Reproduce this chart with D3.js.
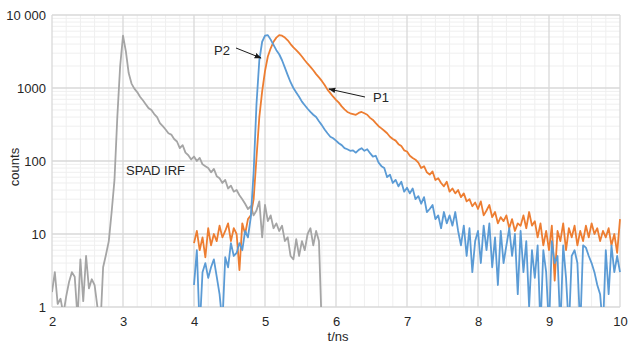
<!DOCTYPE html>
<html><head><meta charset="utf-8">
<script src="https://cdn.jsdelivr.net/npm/d3@7"></script>
<style>body{margin:0;background:#fff}svg{display:block}text{font-family:"Liberation Sans",Arial,sans-serif;fill:#262626}</style>
</head><body><svg id="c" width="629" height="345"></svg>
<script>
const xTicks = [2,3,4,5,6,7,8,9,10];
const yTicks = [1,10,100,1000,10000];
const yTickLabels = ["1","10","100","1000","10 000"];
const dt = 0.04;
const irfStart = 2.0;
const irfCounts = [
 1.6,3,1.1,1.3,0.8,1.4,2.2,3,2.6,0.7,
 4.5,1.2,5,1.8,2.4,2.0,1.0,0.5,3.5,5.2,
 8,20,55,400,2000,5200,3200,1600,1150,980,
 880,760,680,600,530,500,440,400,330,300,
 270,240,230,200,185,150,165,130,120,105,
 115,100,110,90,85,80,70,78,62,58,
 50,55,42,46,38,40,34,30,26,22,
 24,18,21,28,9,25,15,18,12,14,
 11,13,8,9,5,4.5,8.5,5,8,6,
 10,12,7,11,8,0.3];
const p2Start = 4.0;
const p2Counts = [
 2,6,0.5,3,4,2.5,3.5,4.5,2.6,1.5,
 0.6,4.8,3.5,7.5,5,5.5,7.5,6,11,9,
 17,70,600,2400,4300,5200,5300,4600,3900,3300,
 2900,2400,1900,1500,1200,1000,870,760,650,580,
 520,470,430,400,350,310,270,240,215,205,
 190,175,165,150,145,138,140,130,142,150,
 138,145,128,115,118,95,85,80,60,65,
 50,55,45,52,38,43,36,42,30,33,
 26,32,20,22,25,16,18,12,20,14,
 18,13,20,11,7,13,5,12,3,8,
 11,4,13,6,14,3.5,9,2,11,4,
 7,12,5,10,1.5,11,3,8,1,6,
 2.5,7,0.5,6,3,0.5,8,4,5,0.5,
 7,2.5,0.5,5,6,4,0.5,7,6.5,5,
 4,3,2,1.5,0.5,6,1.5,7,3,5,
 3];
const p1Start = 4.0;
const p1Counts = [
 7.5,11,6,9,4.8,12,7,10,8,13,
 9,11,14,8,12,10,3.2,14,10,16,
 18,30,110,400,900,1700,2700,3500,4300,4900,
 5300,5200,4900,4500,4000,3600,3300,3000,2700,2400,
 2150,1950,1750,1550,1400,1250,1100,950,850,760,
 690,630,560,510,470,450,440,430,455,470,
 450,430,390,365,330,300,280,260,240,215,
 200,190,170,160,140,135,118,110,104,95,
 80,85,70,65,72,55,58,50,45,52,
 38,42,36,40,32,36,28,30,24,27,
 22,28,18,21,25,17,20,14,17,15,
 18,12,16,11,14,13,18,12,20,13,
 15,9,14,7,11,6,13,2.3,11,8,
 14,6,12,9,13,7,11,8,13,9,
 14,10,12,8,11,9,12,7,10,5.5,
 16];

const svg = d3.select("#c");
const L=52, R=620, T=15, B=307;
const x = d3.scaleLinear().domain([2,10]).range([L,R]);
const y = d3.scaleLog().domain([1,10000]).range([B,T]);

const grid = svg.append("g");
const xMinor = d3.range(2,10.001,0.2).filter(v=>Math.abs(v-Math.round(v))>1e-6);
grid.selectAll(".xm").data(xMinor).enter().append("line")
  .attr("x1",d=>x(d)).attr("x2",d=>x(d)).attr("y1",T).attr("y2",B)
  .attr("stroke","#efefef").attr("stroke-width",1);
const yMinor = [];
for (let dec=1; dec<10000; dec*=10) for (let k=2;k<=9;k++) yMinor.push(dec*k);
grid.selectAll(".ym").data(yMinor).enter().append("line")
  .attr("x1",L).attr("x2",R).attr("y1",d=>y(d)).attr("y2",d=>y(d))
  .attr("stroke","#efefef").attr("stroke-width",1);
grid.selectAll(".xM").data(xTicks).enter().append("line")
  .attr("x1",d=>x(d)).attr("x2",d=>x(d)).attr("y1",T).attr("y2",B)
  .attr("stroke","#d9d9d9").attr("stroke-width",1.3);
grid.selectAll(".yM").data(yTicks).enter().append("line")
  .attr("x1",L).attr("x2",R).attr("y1",d=>y(d)).attr("y2",d=>y(d))
  .attr("stroke","#d9d9d9").attr("stroke-width",1.3);

const xAxis = d3.axisBottom(x).tickValues(xTicks).tickSize(0).tickPadding(10).tickFormat(d3.format("d"));
const gx = svg.append("g").attr("transform",`translate(0,${B})`).call(xAxis);
gx.select(".domain").remove();
gx.selectAll("text").style("font-size","13px").attr("fill","#262626").style("font-family","Liberation Sans, Arial, sans-serif");
const yAxis = d3.axisLeft(y).tickValues(yTicks).tickSize(0).tickPadding(6).tickFormat((d,i)=>yTickLabels[i]);
const gy = svg.append("g").attr("transform",`translate(${L},0)`).call(yAxis);
gy.select(".domain").remove();
gy.selectAll("text").style("font-size","13px").attr("fill","#262626").style("font-family","Liberation Sans, Arial, sans-serif");

svg.append("text").attr("x",338).attr("y",341).attr("text-anchor","middle").style("font-size","13px").text("t/ns");
svg.append("text").attr("transform","translate(19,167) rotate(-90)").attr("text-anchor","middle").style("font-size","13px").text("counts");

svg.append("clipPath").attr("id","clip").append("rect").attr("x",L).attr("y",T-2).attr("width",R-L+1).attr("height",B-T+2);
const plot = svg.append("g").attr("clip-path","url(#clip)");
const line = d3.line().x(d=>x(d[0])).y(d=>y(Math.max(d[1],0.5)));
function pts(start, arr){ return arr.map((v,i)=>[start+i*dt, v]); }
plot.append("path").datum(pts(irfStart,irfCounts)).attr("d",line).attr("fill","none").attr("stroke","#a5a5a5").attr("stroke-width",1.8).attr("stroke-linejoin","round");
plot.append("path").datum(pts(p1Start,p1Counts)).attr("d",line).attr("fill","none").attr("stroke","#ed7d31").attr("stroke-width",1.8).attr("stroke-linejoin","round");
plot.append("path").datum(pts(p2Start,p2Counts)).attr("d",line).attr("fill","none").attr("stroke","#5b9bd5").attr("stroke-width",1.8).attr("stroke-linejoin","round");

const defs = svg.append("defs");
defs.append("marker").attr("id","ah").attr("viewBox","0 0 10 10").attr("refX",9).attr("refY",5)
  .attr("markerWidth",7).attr("markerHeight",7).attr("orient","auto")
  .append("path").attr("d","M0,1 L10,5 L0,9 z").attr("fill","#1a1a1a");
svg.append("text").attr("x",214).attr("y",55).style("font-size","13px").attr("fill","#1a1a1a").text("P2");
svg.append("line").attr("x1",236).attr("y1",48).attr("x2",261).attr("y2",58).attr("stroke","#1a1a1a").attr("stroke-width",1).attr("marker-end","url(#ah)");
svg.append("text").attr("x",373).attr("y",102).style("font-size","13px").attr("fill","#1a1a1a").text("P1");
svg.append("line").attr("x1",365).attr("y1",97).attr("x2",329).attr("y2",89).attr("stroke","#1a1a1a").attr("stroke-width",1).attr("marker-end","url(#ah)");
svg.append("text").attr("x",126).attr("y",175).style("font-size","13px").attr("fill","#1a1a1a").text("SPAD IRF");
</script></body></html>
